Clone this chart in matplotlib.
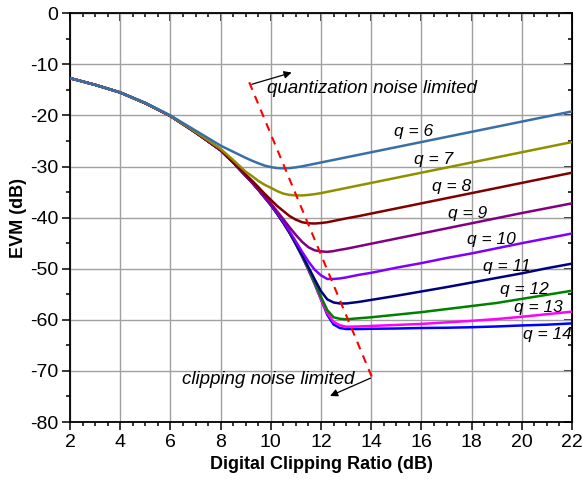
import matplotlib
matplotlib.use('Agg')
from matplotlib import pyplot as plt
from matplotlib.ticker import MultipleLocator

plt.rcParams['font.family'] = ['Liberation Sans', 'DejaVu Sans']
plt.rcParams['axes.unicode_minus'] = False

# Data
#--------------------------------------------------------------------------
clip_ratio = [2, 3, 4, 5, 6, 7, 8, 8.5, 9, 9.25, 9.5, 9.75, 10, 10.25, 10.5,
              10.75, 11, 11.25, 11.5, 11.75, 12, 12.25, 12.5, 12.75, 13, 13.5,
              14, 15, 16, 17, 18, 19, 20, 21, 22]

evm_q6 = [-12.7, -14.0, -15.5, -17.5, -20.0, -22.95, -25.9, -27.1, -28.3,
          -28.85, -29.35, -29.8, -30.1, -30.3, -30.35, -30.3, -30.15, -29.95,
          -29.7, -29.45, -29.2, -28.95, -28.7, -28.45, -28.2, -27.7, -27.2,
          -26.2, -25.2, -24.2, -23.2, -22.2, -21.2, -20.2, -19.2]
evm_q7 = [-12.7, -14.0, -15.5, -17.6, -20.1, -23.2, -26.55, -28.7, -31.0,
          -31.85, -32.8, -33.55, -34.15, -34.8, -35.3, -35.55, -35.65, -35.65,
          -35.55, -35.4, -35.2, -34.95, -34.7, -34.45, -34.2, -33.7, -33.2,
          -32.2, -31.2, -30.2, -29.2, -28.2, -27.2, -26.2, -25.2]
evm_q8 = [-12.7, -14.0, -15.5, -17.6, -20.1, -23.3, -26.7, -29.1, -31.55,
          -32.75, -34.0, -35.3, -36.5, -37.7, -38.7, -39.7, -40.4, -40.9,
          -41.1, -41.15, -41.05, -40.9, -40.65, -40.4, -40.15, -39.7, -39.2,
          -38.2, -37.2, -36.2, -35.2, -34.2, -33.2, -32.2, -31.2]
evm_q9 = [-12.7, -14.0, -15.5, -17.6, -20.1, -23.3, -26.8, -29.2, -31.75,
          -33.0, -34.4, -35.8, -37.2, -38.75, -40.3, -41.9, -43.4, -44.75,
          -45.8, -46.4, -46.6, -46.7, -46.55, -46.3, -46.1, -45.6, -45.1,
          -44.1, -43.1, -42.1, -41.1, -40.1, -39.1, -38.15, -37.2]
evm_q10 = [-12.7, -14.0, -15.5, -17.6, -20.1, -23.3, -26.8, -29.2, -31.8,
           -33.1, -34.5, -35.95, -37.4, -39.1, -40.8, -42.7, -44.7, -46.7,
           -48.6, -50.2, -51.3, -52.0, -52.0, -51.9, -51.7, -51.2, -50.8,
           -49.8, -48.9, -47.9, -47.0, -46.0, -45.0, -44.05, -43.1]
evm_q11 = [-12.7, -14.0, -15.5, -17.6, -20.1, -23.3, -26.8, -29.2, -31.8,
           -33.1, -34.5, -36.0, -37.5, -39.2, -41.0, -42.9, -45.1, -47.35,
           -49.7, -52.1, -54.4, -56.0, -56.6, -56.8, -56.8, -56.5, -56.1,
           -55.3, -54.45, -53.6, -52.7, -51.8, -50.9, -49.9, -49.0]
evm_q12 = [-12.7, -14.0, -15.5, -17.6, -20.1, -23.3, -26.8, -29.2, -31.8,
           -33.1, -34.5, -36.0, -37.5, -39.2, -41.0, -43.0, -45.2, -47.55,
           -50.1, -52.75, -55.5, -58.1, -59.5, -59.8, -59.9, -59.7, -59.5,
           -59.0, -58.5, -57.9, -57.3, -56.7, -55.9, -55.1, -54.3]
evm_q13 = [-12.7, -14.0, -15.5, -17.6, -20.1, -23.3, -26.8, -29.2, -31.8,
           -33.1, -34.5, -36.0, -37.5, -39.2, -41.0, -43.0, -45.2, -47.6,
           -50.2, -52.95, -56.0, -58.7, -60.4, -61.05, -61.35, -61.3, -61.2,
           -61.0, -60.8, -60.5, -60.2, -59.85, -59.4, -58.9, -58.4]
evm_q14 = [-12.7, -14.0, -15.5, -17.6, -20.1, -23.3, -26.8, -29.2, -31.8,
           -33.1, -34.5, -36.0, -37.5, -39.2, -41.0, -43.0, -45.2, -47.6,
           -50.2, -53.0, -56.0, -59.0, -60.9, -61.6, -61.8, -61.8, -61.75,
           -61.7, -61.6, -61.55, -61.45, -61.3, -61.1, -60.95, -60.7]

q_bits = [6, 7, 8, 9, 10, 11, 12, 13, 14]
label_x = [15.7, 16.5, 17.2, 17.85, 18.8, 19.4, 20.1, 20.65, 21.0]
label_y = [-23.1, -28.7, -33.9, -39.1, -44.3, -49.5, -54.0, -57.6, -62.8]

# boundary between the two regions
border_x = [9.14, 14.06]
border_y = [-13.5, -71.6]
#--------------------------------------------------------------------------

curves = [evm_q6, evm_q7, evm_q8, evm_q9, evm_q10, evm_q11, evm_q12,
          evm_q13, evm_q14]
colors = ['#3a6ea8', '#8f8f00', '#800000', '#800080', '#8000ff',
          '#000080', '#008000', '#ff00ff', '#0000ff']

fig = plt.figure(figsize=(5.82, 4.83), dpi=100)
ax = fig.add_axes([70/582, 1 - 422/483, 502/582, 408.7/483])

# draw q=14 first so q=6 sits on top in the shared part
for evm, col in reversed(list(zip(curves, colors))):
    ax.plot(clip_ratio, evm, color=col, lw=1.8, solid_capstyle='round',
            solid_joinstyle='round', zorder=3)

for q, lx, ly in zip(q_bits, label_x, label_y):
    ax.text(lx, ly, 'q = {}'.format(q), fontsize=12.5, style='italic',
            ha='center', va='center', zorder=4)

ax.plot(border_x, border_y, color='red', lw=1.5, ls=(0, (3.9, 3.2)), zorder=4)

ax.annotate('', xy=(10.83, -11.6), xytext=(9.24, -13.9),
            arrowprops=dict(arrowstyle='-|>', color='black', lw=0.9,
                            mutation_scale=11, shrinkA=0, shrinkB=0))
ax.annotate('', xy=(12.36, -74.9), xytext=(13.98, -71.4),
            arrowprops=dict(arrowstyle='-|>', color='black', lw=0.9,
                            mutation_scale=11, shrinkA=0, shrinkB=0))
ax.text(9.85, -14.8, 'quantization noise limited', fontsize=13.5,
        style='italic', ha='left', va='center')
ax.text(6.45, -71.6, 'clipping noise limited', fontsize=13.5,
        style='italic', ha='left', va='center')

ax.set_xlim(2, 22)
ax.set_ylim(-80, 0)
ax.xaxis.set_major_locator(MultipleLocator(2))
ax.xaxis.set_minor_locator(MultipleLocator(0.5))
ax.yaxis.set_major_locator(MultipleLocator(10))
ax.yaxis.set_minor_locator(MultipleLocator(5))
ax.grid(True, which='major', color='#a0a0a0', lw=1.0, zorder=0)
ax.set_axisbelow(True)

ax.tick_params(which='both', direction='out', width=1.1, labelsize=14,
               top=False, right=False)
ax.tick_params(which='major', length=5.5, pad=3)
ax.tick_params(which='minor', length=3)
for sp in ax.spines.values():
    sp.set_linewidth(1.3)

top = ax.secondary_xaxis('top')
top.xaxis.set_major_locator(MultipleLocator(2))
top.xaxis.set_minor_locator(MultipleLocator(0.5))
top.tick_params(which='both', direction='in', labeltop=False, width=1.1)
top.tick_params(which='major', length=5.5)
top.tick_params(which='minor', length=3)
right = ax.secondary_yaxis('right')
right.yaxis.set_major_locator(MultipleLocator(10))
right.yaxis.set_minor_locator(MultipleLocator(5))
right.tick_params(which='both', direction='in', labelright=False, width=1.1)
right.tick_params(which='major', length=5.5)
right.tick_params(which='minor', length=3)

ax.set_xlabel('Digital Clipping Ratio (dB)', fontsize=13, fontweight='bold',
              labelpad=4)
ax.set_ylabel('EVM (dB)', fontsize=13, fontweight='bold', labelpad=2)

fig.savefig('out.png', dpi=100)
